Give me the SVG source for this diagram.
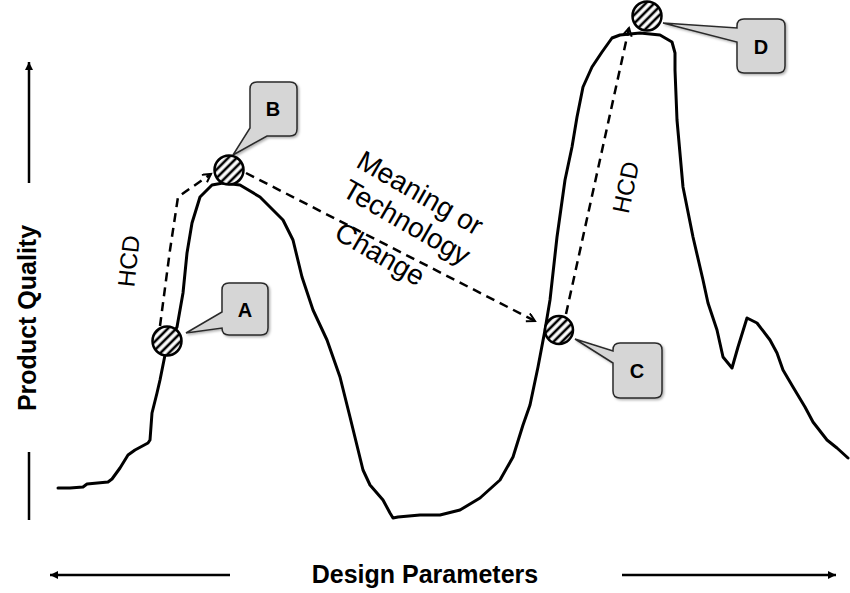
<svg xmlns="http://www.w3.org/2000/svg" width="850" height="593" viewBox="0 0 850 593">
<defs>
<style>
.curve{fill:none;stroke:#000;stroke-width:3;stroke-linejoin:round;stroke-linecap:round}
.dash{fill:none;stroke:#000;stroke-width:2.5;stroke-dasharray:9 6}
.axis{fill:none;stroke:#000;stroke-width:2.5}
.pt{fill:url(#hatch);stroke:#000;stroke-width:2.5}
.call{fill:#d6d6d6;stroke:#2a2a2a;stroke-width:1.5;filter:url(#sh)}
.lbl{font-family:"Liberation Sans",Arial,sans-serif;font-weight:bold;font-size:20px;text-anchor:middle;fill:#000}
.ann{font-family:"Liberation Sans",Arial,sans-serif;font-size:24px;text-anchor:middle;fill:#000}
.big{font-size:28px}
.ax{font-family:"Liberation Sans",Arial,sans-serif;font-weight:bold;font-size:25px;text-anchor:middle;fill:#000}
</style>
<pattern id="hatch" patternUnits="userSpaceOnUse" width="6" height="6" patternTransform="rotate(-45)">
<rect width="6" height="6" fill="#fff"/>
<line x1="0" y1="3" x2="6" y2="3" stroke="#000" stroke-width="2.6"/>
</pattern>
<filter id="sh" x="-20%" y="-20%" width="150%" height="150%">
<feDropShadow dx="1.5" dy="1.5" stdDeviation="1.2" flood-color="#000" flood-opacity="0.3"/>
</filter>
<marker id="open" markerWidth="12" markerHeight="12" refX="9" refY="5" orient="auto" markerUnits="userSpaceOnUse">
<polyline points="1,0.5 9,5 1,9.5" fill="none" stroke="#000" stroke-width="2"/>
</marker>
<marker id="tri" markerWidth="10" markerHeight="10" refX="8" refY="4" orient="auto" markerUnits="userSpaceOnUse">
<path d="M0,0 L8,4 L0,8 Z" fill="#000"/>
</marker>
</defs>

<g id="axes">
<line class="axis" x1="29" y1="183" x2="29" y2="62" marker-end="url(#tri)"/>
<line class="axis" x1="29" y1="452" x2="29" y2="520"/>
<text class="ax" transform="translate(36,318) rotate(-90)">Product Quality</text>
<line class="axis" x1="230" y1="575" x2="50" y2="575" marker-end="url(#tri)"/>
<line class="axis" x1="622" y1="575" x2="836" y2="575" marker-end="url(#tri)"/>
<text class="ax" x="425" y="583">Design Parameters</text>
</g>

<g id="curve">
<polyline class="curve" points="58,488 70,488 83,487 87,484 108,482 112,479 120,468 128,455 135,450 148,443 150,440 152,413 157,393 160,380 165,355 170,340 177,327 183,293 187,253 192,223 200,197 212,185 223,183 240,185 260,197 283,220 293,240 302,277 313,310 327,340 340,377 350,417 363,470 370,485 383,500 390,513 393,518 398,517 420,515 440,515 460,510 480,498 500,480 513,457 523,425 530,405 538,367 545,330 550,300 557,237 565,180 572,147 577,117 583,87 592,67 602,52 612,38 620,35 640,33 660,35 672,42 675,53 675,70 677,120 683,187 693,237 703,280 708,303 717,330 723,357 732,368 738,347 747,318 757,323 770,340 777,353 783,370 793,387 805,407 813,422 827,440 837,448 848,458"/>
</g>

<g id="connectors">
<polyline class="dash" points="160,326 170,250 178,197 185,192 211,174" marker-end="url(#open)"/>
<line class="dash" x1="246" y1="173" x2="535" y2="321" marker-end="url(#open)"/>
<line class="dash" x1="566" y1="314" x2="629" y2="28" marker-end="url(#open)"/>
</g>

<g id="labels">
<text class="ann" transform="translate(137,262) rotate(-84)">HCD</text>
<text class="ann" transform="translate(634,189) rotate(-78)">HCD</text>
<g transform="translate(405,231) rotate(30)">
<text class="ann big" x="-6" y="-31">Meaning or</text>
<text class="ann big" x="-3" y="1">Technology</text>
<text class="ann big" x="-10" y="42">Change</text>
</g>
</g>

<g id="A">
<path class="call" d="M229,283 H261 Q268,283 268,290 V328 Q268,335 261,335 H229 Q222,335 222,328 L186,333 L222,312 V290 Q222,283 229,283 Z"/>
<text class="lbl" x="245" y="317">A</text>
<circle class="pt" cx="167" cy="341" r="14.5"/>
</g>
<g id="B">
<path class="call" d="M257,82 H290 Q297,82 297,89 V129 Q297,136 290,136 H267 L233,155 L250,128 V89 Q250,82 257,82 Z"/>
<text class="lbl" x="273" y="116">B</text>
<circle class="pt" cx="229" cy="170" r="14.5"/>
</g>
<g id="C">
<path class="call" d="M620,343 H655 Q662,343 662,350 V391 Q662,398 655,398 H620 Q613,398 613,391 V363 L575,339 L613,351 V350 Q613,343 620,343 Z"/>
<text class="lbl" x="637" y="378">C</text>
<circle class="pt" cx="559" cy="330" r="14"/>
</g>
<g id="D">
<path class="call" d="M744,19 H778 Q785,19 785,26 V66 Q785,73 778,73 H744 Q737,73 737,66 V42 L663,23 L737,28 V26 Q737,19 744,19 Z"/>
<text class="lbl" x="761" y="54">D</text>
<circle class="pt" cx="647" cy="16" r="14.5"/>
</g>
</svg>
